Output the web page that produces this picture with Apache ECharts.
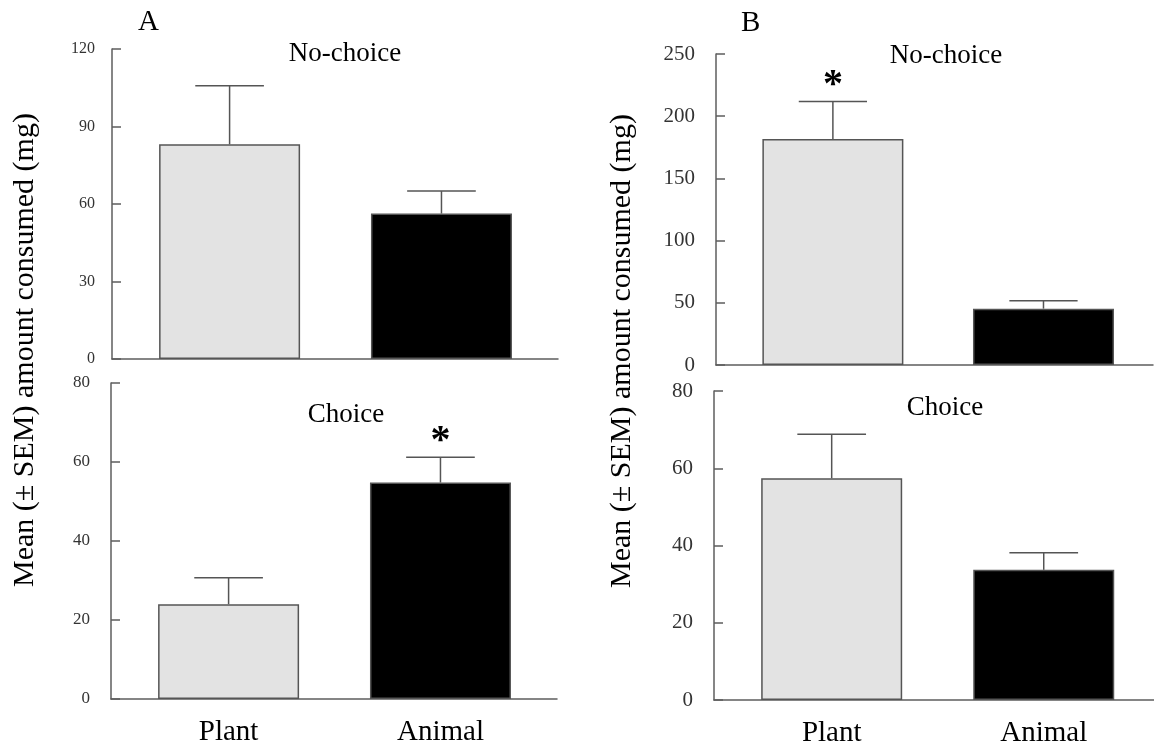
<!DOCTYPE html>
<html>
<head>
<meta charset="utf-8">
<script src="https://cdn.jsdelivr.net/npm/echarts@6/dist/echarts.min.js"></script>
<style>
html,body{margin:0;padding:0;background:#fff;}
#chart{width:1154px;height:748px;}
</style>
</head>
<body>
<div id="chart"></div>
<script>
// ---- data ----
const categories = ['Plant', 'Animal'];
const barColors = ['#e3e3e3', '#000000'];

const aNoChoiceMean = [83.1, 56.3];
const aNoChoiceSem  = [22.7, 8.7];
const aNoChoiceSig  = ['', ''];
const aNoChoiceTicks = [0, 30, 60, 90, 120];

const aChoiceMean = [24.0, 54.8];
const aChoiceSem  = [6.7, 6.4];
const aChoiceSig  = ['', '*'];
const aChoiceTicks = [0, 20, 40, 60, 80];

const bNoChoiceMean = [181.6, 45.3];
const bNoChoiceSem  = [30.2, 6.4];
const bNoChoiceSig  = ['*', ''];
const bNoChoiceTicks = [0, 50, 100, 150, 200, 250];

const bChoiceMean = [57.4, 33.7];
const bChoiceSem  = [11.4, 4.4];
const bChoiceSig  = ['', ''];
const bChoiceTicks = [0, 20, 40, 60, 80];

const panelLetters = ['A', 'B'];
const panelTitles = ['No-choice', 'Choice'];
const yAxisTitle = 'Mean (\u00b1 SEM) amount consumed (mg)';

// ---- layout ----
const FONT = '"Liberation Serif", "Times New Roman", serif';
const panels = [
  {mean: aNoChoiceMean, sem: aNoChoiceSem, sig: aNoChoiceSig, ticks: aNoChoiceTicks,
   grid: {left: 112, top: 49, width: 446, height: 310}, xmax: 1.55, tickFont: 16, labMargin: 17, showCat: false},
  {mean: aChoiceMean, sem: aChoiceSem, sig: aChoiceSig, ticks: aChoiceTicks,
   grid: {left: 111, top: 383, width: 446, height: 316}, xmax: 1.55, tickFont: 17, labMargin: 21, showCat: true},
  {mean: bNoChoiceMean, sem: bNoChoiceSem, sig: bNoChoiceSig, ticks: bNoChoiceTicks,
   grid: {left: 716, top: 54, width: 437, height: 311}, xmax: 1.52, tickFont: 21, labMargin: 21, showCat: false},
  {mean: bChoiceMean, sem: bChoiceSem, sig: bChoiceSig, ticks: bChoiceTicks,
   grid: {left: 714, top: 391, width: 440, height: 309}, xmax: 1.52, tickFont: 21, labMargin: 21, showCat: true}
];

const AXIS_COLOR = '#5e5e5e';
const grids = [], xAxes = [], yAxes = [], series = [];

panels.forEach((p, i) => {
  grids.push(Object.assign({containLabel: false}, p.grid));
  xAxes.push({
    type: 'value', gridIndex: i, min: -0.555, max: p.xmax,
    splitLine: {show: false},
    axisLine: {show: true, onZero: false, lineStyle: {color: AXIS_COLOR, width: 1.5}},
    axisTick: {show: false},
    axisLabel: {
      show: p.showCat, customValues: [0, 1], margin: 19,
      formatter: v => categories[Math.round(v)],
      fontFamily: FONT, fontSize: 29, color: '#000'
    }
  });
  const t = p.ticks;
  yAxes.push({
    type: 'value', gridIndex: i, min: t[0], max: t[t.length - 1], interval: t[1] - t[0],
    splitLine: {show: false},
    axisLine: {show: true, onZero: false, lineStyle: {color: AXIS_COLOR, width: 1.5}},
    axisTick: {show: true, inside: true, length: 9, lineStyle: {color: AXIS_COLOR, width: 1.5}},
    axisLabel: {margin: p.labMargin, fontFamily: FONT, fontSize: p.tickFont, color: '#333'}
  });
  series.push({
    type: 'bar', xAxisIndex: i, yAxisIndex: i, barWidth: 141,
    data: p.mean.map((m, k) => ({
      value: [k, m],
      itemStyle: {color: barColors[k], borderColor: '#555', borderWidth: 1.5}
    })),
    silent: true, animation: false
  });
  series.push({
    type: 'custom', xAxisIndex: i, yAxisIndex: i, z: 5,
    data: p.mean.map((m, k) => [k, m, p.sem[k], k]),
    renderItem: (params, api) => {
      const x = api.value(0), m = api.value(1), e = api.value(2);
      const k = api.value(3);
      const base = api.coord([x, m]);
      const top = api.coord([x, m + e]);
      const half = api.size([0.162, 0])[0];
      const style = {stroke: '#555', lineWidth: 1.5};
      const children = [
        {type: 'line', shape: {x1: base[0], y1: base[1], x2: top[0], y2: top[1]}, style},
        {type: 'line', shape: {x1: top[0] - half, y1: top[1], x2: top[0] + half, y2: top[1]}, style}
      ];
      const s = p.sig[k];
      if (s) {
        children.push({type: 'text', x: top[0], y: top[1] + 4,
          style: {text: s, font: 'bold 40px ' + FONT, fill: '#000', align: 'center', verticalAlign: 'bottom'}});
      }
      return {type: 'group', children};
    },
    silent: true, animation: false
  });
});

const titleStyle = {fontFamily: FONT, fontWeight: 'normal', color: '#000'};
const titles = [
  {text: panelLetters[0], left: 133, top: 3, textStyle: Object.assign({fontSize: 29}, titleStyle)},
  {text: panelLetters[1], left: 736, top: 4, textStyle: Object.assign({fontSize: 29}, titleStyle)},
  {text: panelTitles[0], left: 340, top: 35, textAlign: 'center', textStyle: Object.assign({fontSize: 27}, titleStyle)},
  {text: panelTitles[1], left: 341, top: 396, textAlign: 'center', textStyle: Object.assign({fontSize: 27}, titleStyle)},
  {text: panelTitles[0], left: 941, top: 37, textAlign: 'center', textStyle: Object.assign({fontSize: 27}, titleStyle)},
  {text: panelTitles[1], left: 940, top: 389, textAlign: 'center', textStyle: Object.assign({fontSize: 27}, titleStyle)}
];

const chart = echarts.init(document.getElementById('chart'), null, {renderer: 'canvas'});
chart.setOption({
  backgroundColor: '#fff',
  animation: false,
  title: titles,
  grid: grids,
  xAxis: xAxes,
  yAxis: yAxes,
  series: series,
  graphic: [
    {type: 'text', x: 25, y: 350, rotation: Math.PI / 2,
     style: {text: yAxisTitle, font: '30px ' + FONT, fill: '#000', align: 'center', verticalAlign: 'middle'}},
    {type: 'text', x: 622, y: 351, rotation: Math.PI / 2,
     style: {text: yAxisTitle, font: '30px ' + FONT, fill: '#000', align: 'center', verticalAlign: 'middle'}}
  ]
});
</script>
</body>
</html>
